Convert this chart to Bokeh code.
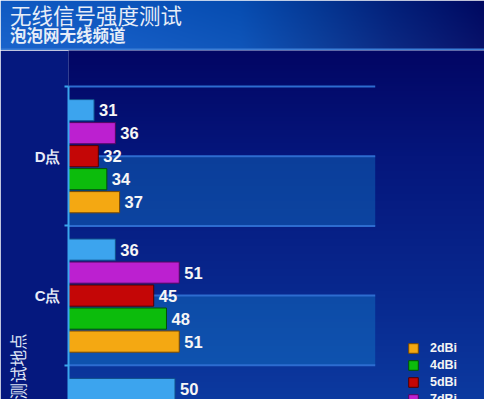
import numpy as np
from bokeh.plotting import figure
from bokeh.layouts import column
from bokeh.models import (Range1d, FixedTicker, ColumnDataSource, Legend, LegendItem, Title)
from bokeh.embed import file_html
from bokeh.resources import INLINE
from bokeh.core.properties import value

# ---------------- data ----------------
title_text = "无线信号强度测试"
subtitle_text = "泡泡网无线频道"
axis_title = "测试地点"
categories = ["D点", "C点", "B点"]
cat_pos = [2, 1, 0]

legend_labels = ["2dBi", "4dBi", "5dBi", "7dBi"]
vals_2dbi = [37, 51, None]
vals_4dbi = [34, 48, None]
vals_5dbi = [32, 45, None]
vals_7dbi = [36, 51, None]
vals_top = [31, 36, 50]          # fifth (blue) series; its legend entry is cut off

x_start = 25      # value axis starts here
x_plot_end = 97   # right end of the plot area (grid lines / bands)

# ---------------- geometry / style ----------------
W = 484
TITLE_H = 50
CH = 399 - TITLE_H          # chart figure height
FRAME_L = 68
PX_X = 4.26                  # px per value unit
PX_Y = 139.4                 # px per category
X_MIN = x_start
X_MAX = X_MIN + (W - FRAME_L) / PX_X
Y_TOP = 2 + (155.7 - TITLE_H) / PX_Y
Y_BOT = Y_TOP - CH / PX_Y


def grad_img(h, w, xstops, ystops, mode):
    """RGBA gradient image (row 0 = bottom)."""
    img = np.zeros((h, w), dtype=np.uint32)
    view = img.view(dtype=np.uint8).reshape((h, w, 4))
    if mode == "x":
        xs = np.arange(w)
        for ch in range(3):
            row = np.interp(xs, [s[0] for s in xstops], [s[1][ch] for s in xstops])
            view[:, :, ch] = np.clip(row[None, :] + ystops[:, None], 0, 255).astype(np.uint8)
    else:
        ys = np.arange(h)[::-1]   # distance from top
        for ch in range(3):
            col = np.interp(ys, [s[0] for s in ystops], [s[1][ch] for s in ystops])
            view[:, :, ch] = np.clip(col[:, None] + np.zeros((1, w)), 0, 255).astype(np.uint8)
    view[:, :, 3] = 255
    return img


# ---------------- title band ----------------
tf = figure(width=W, height=TITLE_H, output_backend="svg", toolbar_location=None,
            x_range=Range1d(0, W), y_range=Range1d(0, TITLE_H), title=None,
            x_axis_location=None, y_axis_location=None, frame_align=False,
            min_border=0, min_border_left=0, min_border_right=0, min_border_top=0, min_border_bottom=0)
tf.outline_line_color = None
tf.xgrid.visible = False
tf.ygrid.visible = False
tf.border_fill_color = "#0c4aa8"
band_stops = [(0, (20, 94, 198)), (120, (16, 88, 192)), (240, (10, 80, 180)),
              (320, (8, 58, 150)), (390, (6, 36, 126)), (484, (3, 12, 100))]
vshift = np.linspace(6, -4, TITLE_H)      # slightly lighter at the bottom (row 0 = bottom)
timg = grad_img(TITLE_H, W, band_stops, vshift, "x")
tv = timg.view(dtype=np.uint8).reshape((TITLE_H, W, 4))
tv[0:2, :, 0] = 60
tv[0:2, :, 1] = 126
tv[0:2, :, 2] = 214
tf.image_rgba(image=[timg], x=0, y=0, dw=W, dh=TITLE_H)
tf.text(x=[9.5], y=[TITLE_H - 14], text=[title_text], text_baseline="middle", text_align="left",
        text_font=value("Noto Sans CJK SC"), text_font_size="21.5px", text_color="#e6edf8")
tf.text(x=[9.5], y=[TITLE_H - 34], text=[subtitle_text], text_baseline="middle", text_align="left",
        text_font=value("Noto Sans CJK SC"), text_font_style="bold", text_font_size="16.5px",
        text_color="#e6edf8")

# ---------------- chart ----------------
p = figure(width=W, height=CH, output_backend="svg", toolbar_location=None, title=None,
           x_range=Range1d(X_MIN, X_MAX), y_range=Range1d(Y_BOT, Y_TOP), frame_align=False,
           x_axis_location=None, min_border_left=FRAME_L, min_border_top=0,
           min_border_right=0, min_border_bottom=0)
p.border_fill_color = "#05187e"
p.background_fill_color = "#05187e"
p.outline_line_color = None
p.xgrid.visible = False
p.ygrid.visible = False

bg_stops = [(0, (2, 6, 100)), (105, (5, 22, 124)), (240, (8, 40, 142)), (CH, (12, 58, 160))]
cimg = grad_img(CH, W - FRAME_L, None, bg_stops, "y")
p.image_rgba(image=[cimg], x=X_MIN, y=Y_BOT, dw=X_MAX - X_MIN, dh=Y_TOP - Y_BOT)

# plot-area bands and grid lines
p.quad(left=x_start, right=x_plot_end, top=[c for c in cat_pos], bottom=[c - 0.5 for c in cat_pos],
       fill_color="#1a9ae0", fill_alpha=0.3, line_alpha=0)
grid_y = sorted([c + 0.5 for c in cat_pos] + [c for c in cat_pos] + [cat_pos[-1] - 0.5])
p.segment(x0=x_start, x1=x_plot_end, y0=grid_y, y1=grid_y, line_color="#2d6cd0", line_width=2)

# bars
series = [
    (vals_top, None, 0.33, "#3ca4ee", "#10508a"),
    (vals_7dbi, legend_labels[3], 0.165, "#bc20d0", "#500860"),
    (vals_5dbi, legend_labels[2], 0.0, "#c40606", "#500000"),
    (vals_4dbi, legend_labels[1], -0.165, "#0cbc0c", "#045004"),
    (vals_2dbi, legend_labels[0], -0.33, "#f4a812", "#7a4a00"),
]
renderers = {}
for vals, lab, off, fc, lc in series:
    ys, vs = [], []
    for pos, v in zip(cat_pos, vals):
        if v is not None:
            ys.append(pos + off)
            vs.append(v)
    src = ColumnDataSource(dict(y=ys, v=vs, lbl=[str(v) for v in vs]))
    r = p.hbar(y="y", left=x_start, right="v", height=0.152, source=src,
               fill_color=fc, line_color=lc, line_width=1)
    p.text(x="v", y="y", text="lbl", source=src, x_offset=5, text_baseline="middle",
           text_align="left", text_font=value("Liberation Sans"), text_font_style="bold",
           text_font_size="16.5px", text_color="#f6f6f6")
    if lab:
        renderers[lab] = r

# y axis
yax = p.yaxis[0]
yax.ticker = FixedTicker(ticks=cat_pos, minor_ticks=[c + 0.5 for c in cat_pos] + [cat_pos[-1] - 0.5])
yax.major_label_overrides = {float(pos): cat for pos, cat in zip(cat_pos, categories)}
yax.bounds = (cat_pos[-1] - 0.5, cat_pos[0] + 0.5)
yax.axis_line_color = "#3aa6ee"
yax.axis_line_width = 2
yax.major_tick_out = 0
yax.major_tick_in = 0
yax.minor_tick_out = 4
yax.minor_tick_in = 0
yax.minor_tick_line_color = "#3aa6ee"
yax.minor_tick_line_width = 2
yax.major_label_text_color = "#e8ecf8"
yax.major_label_text_font = "Liberation Sans"
yax.major_label_text_font_style = "bold"
yax.major_label_text_font_size = "15px"
yax.major_label_standoff = 4

# axis title (vertical, at the bottom of the left side)
p.add_layout(Title(text=axis_title, align="left", offset=0, standoff=4,
                   text_font="Noto Sans CJK SC", text_font_size="16.5px", text_font_style="normal",
                   text_color="#dde4f4"), "left")

# legend
legend = Legend(items=[LegendItem(label=l, renderers=[renderers[l]]) for l in legend_labels],
                location=(339, -7), orientation="vertical",
                glyph_width=12, glyph_height=12, label_height=12, spacing=3, padding=0, margin=0,
                label_standoff=11, label_text_color="#f4f4f4", label_text_font="Liberation Sans",
                label_text_font_style="bold", label_text_font_size="12.5px",
                background_fill_alpha=0, border_line_alpha=0)
p.add_layout(legend)

layout = column(tf, p, spacing=0)
open("out.html", "w").write(file_html(layout, INLINE))
